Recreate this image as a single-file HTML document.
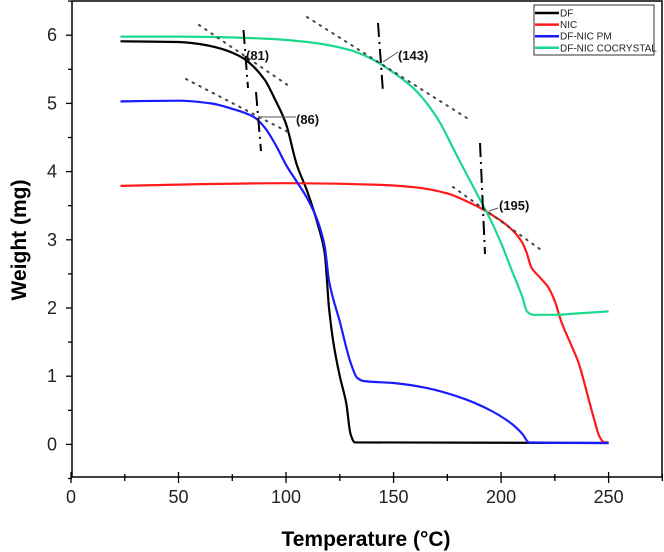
<!DOCTYPE html>
<html><head><meta charset="utf-8"><style>
html,body{margin:0;padding:0;background:#fff;}
svg{display:block;font-family:"Liberation Sans",Arial,sans-serif;}
</style></head><body>
<svg id="chart" width="664" height="552" viewBox="0 0 664 552" xmlns="http://www.w3.org/2000/svg">
<g id="grid"></g>
<g id="series"></g>
<g id="annot"></g>
<g id="legend"></g>
</svg>
<script>
const xTicks=[0,50,100,150,200,250];
const yTicks=[0,1,2,3,4,5,6];
const dfT=[23,50,60,70,78,82,90,95,100,105,110,115,118,120,122,125,128,130,132,250];
const dfW=[5.91,5.9,5.87,5.8,5.7,5.62,5.35,5.05,4.7,4.1,3.7,3.2,2.8,2.0,1.5,1.0,0.6,0.15,0.03,0.02];
const nicT=[23,50,100,140,160,175,185,195,205,210,212,214,218,222,225,228,232,236,240,243,246,248,250];
const nicW=[3.79,3.81,3.83,3.81,3.77,3.68,3.55,3.38,3.15,2.95,2.8,2.6,2.45,2.3,2.1,1.8,1.5,1.2,0.75,0.4,0.1,0.03,0.03];
const pmT=[23,50,65,75,85,90,95,100,105,110,115,118,120,125,130,133,136,150,165,180,195,205,210,213,250];
const pmW=[5.03,5.04,5.0,4.92,4.8,4.65,4.4,4.1,3.85,3.6,3.25,2.9,2.4,1.8,1.2,0.98,0.93,0.9,0.83,0.7,0.5,0.3,0.15,0.03,0.02];
const coT=[23,50,90,110,130,140,150,160,170,180,190,195,200,205,210,212,215,225,235,250];
const coW=[5.98,5.98,5.95,5.9,5.78,5.65,5.45,5.2,4.8,4.2,3.6,3.3,2.95,2.55,2.15,1.95,1.9,1.9,1.92,1.95];
const seriesNames=["DF","NIC","DF-NIC PM","DF-NIC COCRYSTAL"];
const seriesColors=["#000000","#ff1a1a","#1a1aff","#1ad98c"];

const NS="http://www.w3.org/2000/svg";
const X0=71,XK=(608.6-71)/250,Y0=444.4,YK=68.2;
const sx=v=>X0+v*XK, sy=v=>Y0-v*YK;
function mk(tag,attrs,parent){const e=document.createElementNS(NS,tag);for(const k in attrs)e.setAttribute(k,attrs[k]);parent.appendChild(e);return e;}
function monotone(pts){
  const n=pts.length,dx=[],sl=[],m=[];
  for(let i=0;i<n-1;i++){dx[i]=pts[i+1][0]-pts[i][0];sl[i]=(pts[i+1][1]-pts[i][1])/dx[i];}
  m[0]=sl[0];m[n-1]=sl[n-2];
  for(let i=1;i<n-1;i++){
    if(sl[i-1]*sl[i]<=0)m[i]=0;
    else{const w1=2*dx[i]+dx[i-1],w2=dx[i]+2*dx[i-1];m[i]=(w1+w2)/(w1/sl[i-1]+w2/sl[i]);}
  }
  let d='M'+pts[0][0].toFixed(1)+','+pts[0][1].toFixed(1);
  for(let i=0;i<n-1;i++){
    const h=dx[i]/3;
    d+=' C'+(pts[i][0]+h).toFixed(1)+','+(pts[i][1]+m[i]*h).toFixed(1)+' '+(pts[i+1][0]-h).toFixed(1)+','+(pts[i+1][1]-m[i+1]*h).toFixed(1)+' '+pts[i+1][0].toFixed(1)+','+pts[i+1][1].toFixed(1);
  }
  return d;
}
const grid=document.getElementById('grid');
const fr=mk('rect',{x:72,y:1,width:590,height:476,fill:'none',stroke:'#000','stroke-width':1.5},grid);


for(let v=0;v<=275;v+=25){
  const t=mk('line',{x1:sx(v),x2:sx(v),y1:xTicks.includes(v)?472:474,y2:xTicks.includes(v)?483:481,stroke:'#000','stroke-width':1.3},grid);
  
  
}
xTicks.forEach(v=>{const t=mk('text',{x:sx(v),y:503,'font-size':18,'text-anchor':'middle',fill:'#222'},grid);t.textContent=v;
  
  });
for(let v=-0.5;v<=6.5;v+=0.5){
  const maj=Number.isInteger(v);
  const t=mk('line',{x1:maj?66:68,x2:72,y1:sy(v),y2:sy(v),stroke:'#000','stroke-width':1.3},grid);
  
  
}
yTicks.forEach(v=>{const t=mk('text',{x:52,y:sy(v)+6,'font-size':18,'text-anchor':'middle',fill:'#222'},grid);t.textContent=v;
  
  });
const xt=mk('text',{x:366,y:546,'font-size':21,'font-weight':'bold','text-anchor':'middle'},grid);xt.textContent='Temperature (°C)';


const yt=mk('text',{x:0,y:0,'font-size':21,'font-weight':'bold','text-anchor':'middle',transform:'translate(26,240) rotate(-90)'},grid);yt.textContent='Weight (mg)';


const ser=document.getElementById('series');
const all=[[dfT,dfW],[nicT,nicW],[pmT,pmW],[coT,coW]];
const snames=['df-line','nic-line','pm-line','cocrystal-line'];
all.forEach((s,i)=>{
  const pts=s[0].map((t,j)=>[sx(t),sy(s[1][j])]);
  const p=mk('path',{d:monotone(pts),fill:'none',stroke:seriesColors[i],'stroke-width':2.2,'stroke-linejoin':'round'},ser);
  
  
});
const an=document.getElementById('annot');
[[199,25,292,88],[186,79,288,132],[307,17,470,120],[453,187,544,252]].forEach(l=>{
  const e=mk('line',{x1:l[0],y1:l[1],x2:l[2],y2:l[3],stroke:'#444','stroke-width':2,'stroke-dasharray':'1.5 6','stroke-linecap':'round'},an);
  
  
});
[[243.5,30,248,88],[256,92,261,151],[378,23,383,92],[480,143,485,254]].forEach(l=>{
  const e=mk('line',{x1:l[0],y1:l[1],x2:l[2],y2:l[3],stroke:'#000','stroke-width':2,'stroke-dasharray':'14 5 2 5'},an);
  
  
});
[[259,117,296,117],[383,62,398,52],[489,211,498,208]].forEach(l=>{
  const e=mk('line',{x1:l[0],y1:l[1],x2:l[2],y2:l[3],stroke:'#555','stroke-width':1},an);
  
  
});
[['(81)',246,60],['(143)',398,60],['(86)',296,124],['(195)',499,210]].forEach(a=>{
  const t=mk('text',{x:a[1],y:a[2],'font-size':13,'font-weight':'bold',fill:'#111'},an);t.textContent=a[0];
  
  
});
const lg=document.getElementById('legend');
mk('rect',{x:534,y:5,width:120,height:50,fill:'#fff',stroke:'#333','stroke-width':1},lg);
seriesNames.forEach((n,i)=>{
  const y=13+i*11.6;
  const l=mk('line',{x1:535,x2:559,y1:y,y2:y,stroke:seriesColors[i],'stroke-width':2.5},lg);
  
  
  const t=mk('text',{x:560,y:y+3.5,'font-size':10,fill:'#222'},lg);t.textContent=n;
  
  
});
</script>
</body></html>
